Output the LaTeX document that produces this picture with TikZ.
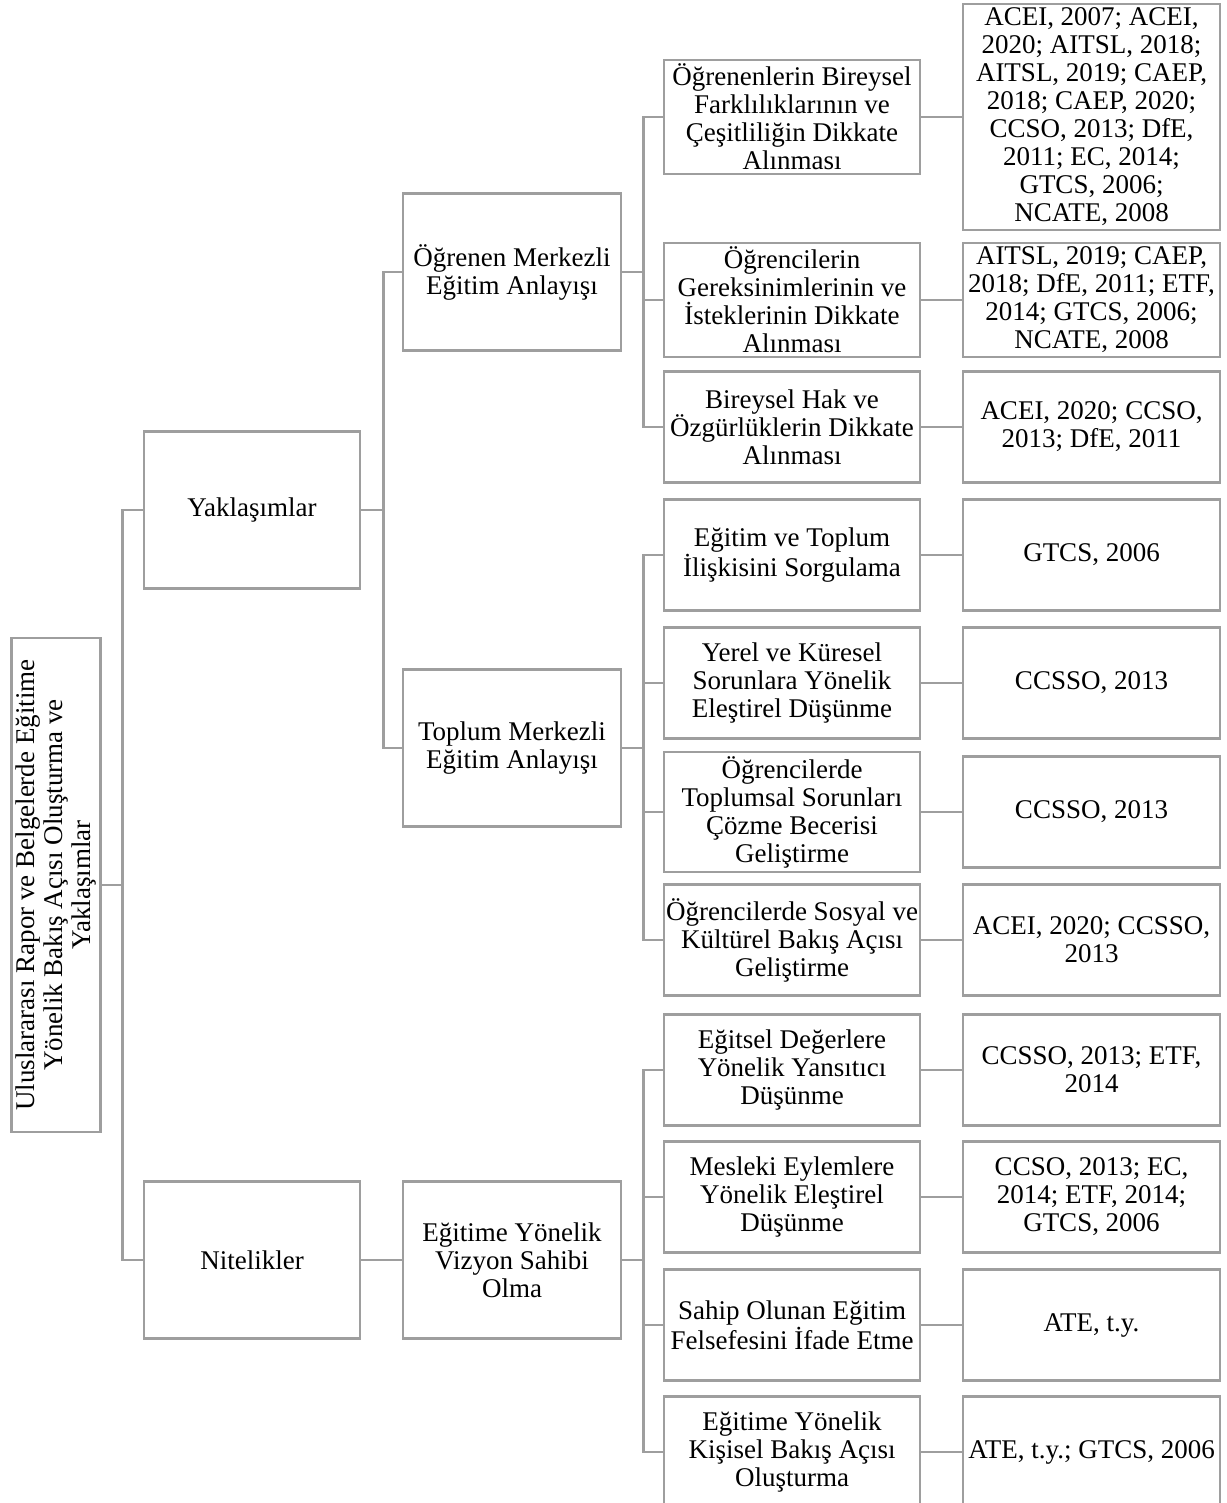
\documentclass[tikz,border=0pt]{standalone}
\usepackage{fontspec}
\setmainfont{Liberation Serif}
\definecolor{linegray}{RGB}{158,158,158}
\tikzset{
  box/.style={draw=linegray, line width=1.3pt, align=center, inner xsep=0pt, inner ysep=2pt,
    font=\fontsize{13.5}{14}\selectfont},
  rootbox/.style={box, minimum width=247pt, minimum height=44pt},
  lvlone/.style={box, minimum width=108pt, minimum height=78.5pt},
  lvltwo/.style={box, minimum width=109pt, minimum height=78.5pt},
  lvlthree/.style={box, minimum width=128pt, minimum height=55.5pt},
  refbox/.style={box, minimum width=128.5pt, minimum height=55.5pt},
  link/.style={draw=linegray, line width=1.3pt}
}
\begin{document}
\begin{tikzpicture}[x=0.5pt,y=-0.5pt]
\useasboundingbox (0,0) rectangle (1226,1503);

\node[rootbox, rotate=90] (root) at (56,885) {Uluslararası Rapor ve Belgelerde Eğitime\\Yönelik Bakış Açısı Oluşturma ve\\Yaklaşımlar};

\node[lvlone] (yak) at (252,510) {Yaklaşımlar};
\node[lvlone] (nit) at (252,1260) {Nitelikler};

\node[lvltwo] (ogrm) at (512,272) {Öğrenen Merkezli\\Eğitim Anlayışı};
\node[lvltwo] (tplm) at (512,748) {Toplum Merkezli\\Eğitim Anlayışı};
\node[lvltwo] (vizyon) at (512,1260) {Eğitime Yönelik\\Vizyon Sahibi\\Olma};

% ogrenen merkezli
\node[lvlthree] (a1) at (792,117) {Öğrenenlerin Bireysel\\Farklılıklarının ve\\Çeşitliliğin Dikkate\\Alınması};
\node[lvlthree] (a2) at (792,300) {Öğrencilerin\\Gereksinimlerinin ve\\İsteklerinin Dikkate\\Alınması};
\node[lvlthree] (a3) at (792,427) {Bireysel Hak ve\\Özgürlüklerin Dikkate\\Alınması};

% toplum merkezli
\node[lvlthree] (b1) at (792,555) {Eğitim ve Toplum\\İlişkisini Sorgulama};
\node[lvlthree] (b2) at (792,683) {Yerel ve Küresel\\Sorunlara Yönelik\\Eleştirel Düşünme};
\node[lvlthree] (b3) at (792,812) {Öğrencilerde\\Toplumsal Sorunları\\Çözme Becerisi\\Geliştirme};
\node[lvlthree] (b4) at (792,940) {Öğrencilerde Sosyal ve\\Kültürel Bakış Açısı\\Geliştirme};

% vizyon
\node[lvlthree] (c1) at (792,1070) {Eğitsel Değerlere\\Yönelik Yansıtıcı\\Düşünme};
\node[lvlthree] (c2) at (792,1197) {Mesleki Eylemlere\\Yönelik Eleştirel\\Düşünme};
\node[lvlthree] (c3) at (792,1325) {Sahip Olunan Eğitim\\Felsefesini İfade Etme};
\node[lvlthree] (c4) at (792,1452) {Eğitime Yönelik\\Kişisel Bakış Açısı\\Oluşturma};

% kaynaklar
\node[refbox, minimum height=112pt] (ra1) at (1091.5,117) {ACEI, 2007; ACEI,\\2020; AITSL, 2018;\\AITSL, 2019; CAEP,\\2018; CAEP, 2020;\\CCSO, 2013; DfE,\\2011; EC, 2014;\\GTCS, 2006;\\NCATE, 2008};
\node[refbox] (ra2) at (1091.5,300) {AITSL, 2019; CAEP,\\2018; DfE, 2011; ETF,\\2014; GTCS, 2006;\\NCATE, 2008};
\node[refbox] (ra3) at (1091.5,427) {ACEI, 2020; CCSO,\\2013; DfE, 2011};
\node[refbox] (rb1) at (1091.5,555) {GTCS, 2006};
\node[refbox] (rb2) at (1091.5,683) {CCSSO, 2013};
\node[refbox] (rb3) at (1091.5,812) {CCSSO, 2013};
\node[refbox] (rb4) at (1091.5,940) {ACEI, 2020; CCSSO,\\2013};
\node[refbox] (rc1) at (1091.5,1070) {CCSSO, 2013; ETF,\\2014};
\node[refbox] (rc2) at (1091.5,1197) {CCSO, 2013; EC,\\2014; ETF, 2014;\\GTCS, 2006};
\node[refbox] (rc3) at (1091.5,1325) {ATE, t.y.};
\node[refbox] (rc4) at (1091.5,1452) {ATE, t.y.; GTCS, 2006};

% baglantilar
\draw[link] (root.south) -- ++(21,0) |- (yak.west);
\draw[link] (root.south) -- ++(21,0) |- (nit.west);
\draw[link] (yak.east) -- ++(22,0) |- (ogrm.west);
\draw[link] (yak.east) -- ++(22,0) |- (tplm.west);
\draw[link] (nit.east) -- (vizyon.west);

\draw[link] (ogrm.east) -- ++(21,0) |- (a1.west);
\draw[link] (ogrm.east) -- ++(21,0) |- (a2.west);
\draw[link] (ogrm.east) -- ++(21,0) |- (a3.west);
\draw[link] (tplm.east) -- ++(21,0) |- (b1.west);
\draw[link] (tplm.east) -- ++(21,0) |- (b2.west);
\draw[link] (tplm.east) -- ++(21,0) |- (b3.west);
\draw[link] (tplm.east) -- ++(21,0) |- (b4.west);
\draw[link] (vizyon.east) -- ++(21,0) |- (c1.west);
\draw[link] (vizyon.east) -- ++(21,0) |- (c2.west);
\draw[link] (vizyon.east) -- ++(21,0) |- (c3.west);
\draw[link] (vizyon.east) -- ++(21,0) |- (c4.west);

\draw[link] (a1) -- (ra1);
\draw[link] (a2) -- (ra2);
\draw[link] (a3) -- (ra3);
\draw[link] (b1) -- (rb1);
\draw[link] (b2) -- (rb2);
\draw[link] (b3) -- (rb3);
\draw[link] (b4) -- (rb4);
\draw[link] (c1) -- (rc1);
\draw[link] (c2) -- (rc2);
\draw[link] (c3) -- (rc3);
\draw[link] (c4) -- (rc4);
\end{tikzpicture}
\end{document}
